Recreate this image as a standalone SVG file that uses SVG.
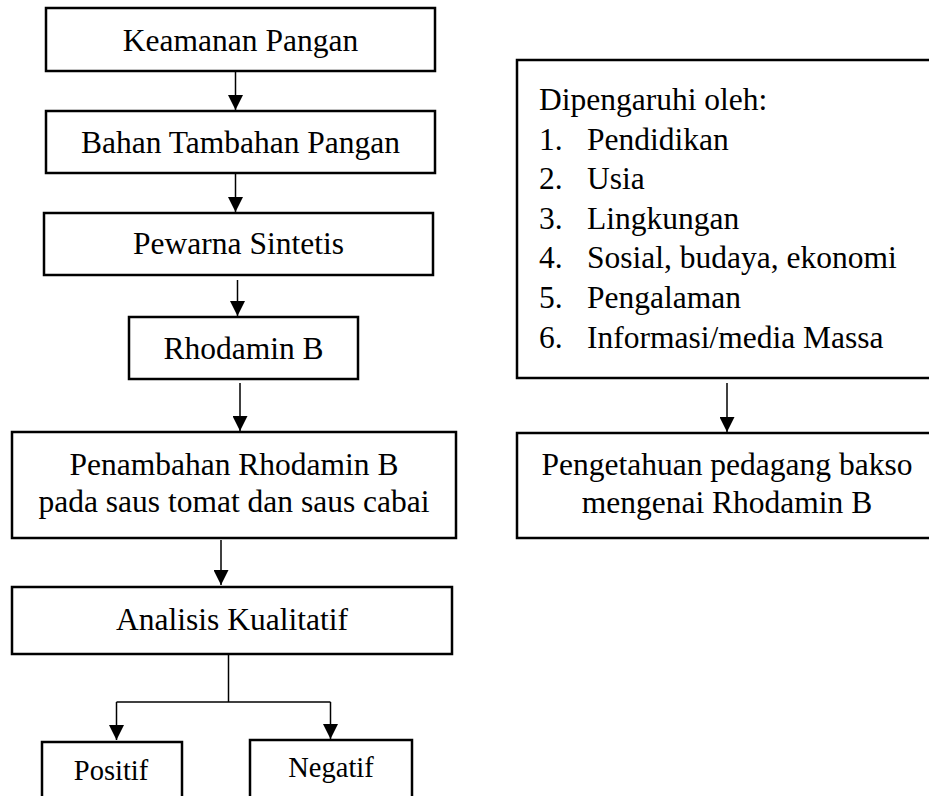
<svg xmlns="http://www.w3.org/2000/svg" width="929" height="796" viewBox="0 0 929 796">
<style>
.box{fill:#fff;stroke:#000;stroke-width:2.5}
.t{font-family:"Liberation Serif","Times New Roman",serif;font-size:31.5px;fill:#000}
.c{text-anchor:middle}
.s{font-size:28.5px}
.ln{fill:none;stroke:#000;stroke-width:1.5}
</style>
<defs>
<marker id="ah" viewBox="0 0 10 10" refX="10" refY="5" markerWidth="15" markerHeight="15" markerUnits="userSpaceOnUse" orient="auto">
<path d="M0,0 L10,5 L0,10 z" fill="#000"/>
</marker>
</defs>
<rect width="929" height="796" fill="#fff"/>
<g id="connectors">
<line class="ln" x1="235.5" y1="72" x2="235.5" y2="110" marker-end="url(#ah)"/>
<line class="ln" x1="235.5" y1="174" x2="235.5" y2="212" marker-end="url(#ah)"/>
<line class="ln" x1="237.5" y1="280" x2="237.5" y2="316" marker-end="url(#ah)"/>
<line class="ln" x1="240" y1="383" x2="240" y2="431" marker-end="url(#ah)"/>
<line class="ln" x1="221" y1="540" x2="221" y2="585" marker-end="url(#ah)"/>
<line class="ln" x1="228.5" y1="655" x2="228.5" y2="702"/>
<line class="ln" x1="116.5" y1="702" x2="330.5" y2="702"/>
<line class="ln" x1="116.5" y1="702" x2="116.5" y2="740" marker-end="url(#ah)"/>
<line class="ln" x1="330.5" y1="702" x2="330.5" y2="739" marker-end="url(#ah)"/>
<line class="ln" x1="727" y1="383" x2="727" y2="432" marker-end="url(#ah)"/>
</g>
<g id="n1"><rect class="box" x="46" y="8" width="389" height="63"/><text class="t c" x="240.5" y="51">Keamanan Pangan</text></g>
<g id="n2"><rect class="box" x="46" y="111" width="389" height="62"/><text class="t c" x="240.5" y="152.5">Bahan Tambahan Pangan</text></g>
<g id="n3"><rect class="box" x="44" y="213" width="389" height="62"/><text class="t c" x="238.5" y="254">Pewarna Sintetis</text></g>
<g id="n4"><rect class="box" x="129" y="317" width="229" height="62"/><text class="t c" x="243.5" y="358.5">Rhodamin B</text></g>
<g id="n5"><rect class="box" x="12" y="432" width="444" height="106"/><text class="t c" x="234" y="475">Penambahan Rhodamin B</text><text class="t c" x="234" y="512">pada saus tomat dan saus cabai</text></g>
<g id="n6"><rect class="box" x="12" y="587" width="440" height="67"/><text class="t c" x="232" y="630">Analisis Kualitatif</text></g>
<g id="n7"><rect class="box" x="42" y="742" width="140" height="70"/><text class="t c s" x="111" y="780">Positif</text></g>
<g id="n8"><rect class="box" x="250" y="740" width="162" height="72"/><text class="t c s" x="331" y="777">Negatif</text></g>
<g id="n9"><rect class="box" x="517" y="60" width="430" height="318"/>
<text class="t" x="539" y="110">Dipengaruhi oleh:</text>
<text class="t" x="539" y="150">1.</text><text class="t" x="587" y="150">Pendidikan</text>
<text class="t" x="539" y="189">2.</text><text class="t" x="587" y="189">Usia</text>
<text class="t" x="539" y="228.5">3.</text><text class="t" x="587" y="228.5">Lingkungan</text>
<text class="t" x="539" y="268">4.</text><text class="t" x="587" y="268">Sosial, budaya, ekonomi</text>
<text class="t" x="539" y="308">5.</text><text class="t" x="587" y="308">Pengalaman</text>
<text class="t" x="539" y="347.5">6.</text><text class="t" x="587" y="347.5">Informasi/media Massa</text>
</g>
<g id="n10"><rect class="box" x="517" y="433" width="430" height="105"/><text class="t c" x="727" y="475">Pengetahuan pedagang bakso</text><text class="t c" x="727" y="513">mengenai Rhodamin B</text></g>
</svg>
